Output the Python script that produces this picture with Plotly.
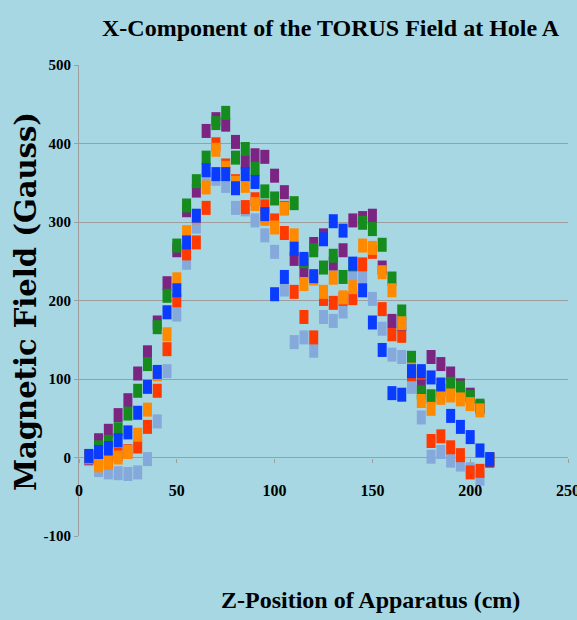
import plotly.graph_objects as go

z_cm = list(range(5, 215, 5))

purple = [0, 22, 34, 54, 73, 107, 134, 172, 222, 264, 315, 340, 416, 431, 424, 402, 376, 385, 383, 359,
          338, 253, 236, 272, 283, 247, 264, 302, 305, 308, 242, 174, 170, 125, 90, 128, 119, 107, 92, 80, 64, -4]
green = [1, 13, 20, 36, 56, 85, 119, 166, 206, 270, 321, 352, 382, 426, 439, 382, 393, 368, 339, 330,
         318, 324, 250, 264, 242, 257, 230, 246, 299, 291, 271, 228, 186, 127, 83, 78, 85, 94, 89, 77, 66, -2]
orange = [1, -10, -7, 0, 7, 29, 61, 106, 157, 227, 287, 306, 344, 392, 369, 350, 346, 323, 304, 293,
          317, 283, 221, 228, 211, 229, 204, 217, 270, 267, 236, 213, 171, 112, 72, 62, 76, 79, 74, 68, 60, -2]
blue = [2, 7, 12, 22, 32, 57, 90, 109, 185, 213, 274, 308, 366, 361, 361, 343, 361, 351, 310, 208,
        230, 266, 253, 231, 278, 301, 289, 247, 213, 172, 137, 82, 80, 110, 110, 102, 93, 53, 39, 26, 9, -2]
red = [0, 0, -4, 4, 8, 14, 39, 85, 138, 200, 260, 274, 318, 399, 372, 352, 319, 329, 320, 302,
       286, 211, 179, 153, 202, 197, 202, 203, 246, 262, 189, 157, 155, 106, 106, 21, 27, 13, 3, -19, -17, -3]
light = [-2, -16, -19, -20, -21, -19, -2, 46, 110, 182, 248, 294, 355, 355, 346, 318, 316, 302, 283, 262,
         214, 147, 153, 136, 179, 174, 186, 234, 230, 202, 164, 131, 128, 90, 51, 1, 7, -4, -9, -15, -27, -3]

series = [
    ("light", light, "#86a9dc"),
    ("red", red, "#ff3a00"),
    ("purple", purple, "#7b2481"),
    ("green", green, "#168c1e"),
    ("orange", orange, "#ff8a00"),
    ("blue", blue, "#0a3cff"),
]

x_ticks = [0, 50, 100, 150, 200, 250]
y_ticks = [-100, 0, 100, 200, 300, 400, 500]

bg = "#a6d7e3"
grid = "#9e9e9e"

fig = go.Figure()
for name, vals, col in series:
    fig.add_trace(go.Scatter(
        x=z_cm, y=vals, mode="markers", name=name,
        marker=dict(symbol="line-ns", size=10, color=col,
                    line=dict(color=col, width=9)),
        cliponaxis=False,
    ))

fig.update_layout(
    width=577, height=620,
    margin=dict(l=79, r=9, t=65, b=84),
    paper_bgcolor=bg, plot_bgcolor=bg,
    showlegend=False,
    font=dict(family="Liberation Serif", color="black"),
    xaxis=dict(range=[0, 250], tickvals=x_ticks, ticktext=[str(v) for v in x_ticks],
               showgrid=False, zeroline=False, showline=False,
               anchor="free", position=1/6, automargin=False,
               ticks="outside", ticklen=4, tickcolor=grid,
               ticklabelstandoff=14, ticklabeloverflow="allow",
               tickfont=dict(family="Liberation Serif", size=16, color="black", weight="bold")),
    yaxis=dict(range=[-100, 500], tickvals=y_ticks, ticktext=[str(v) for v in y_ticks],
               showgrid=True, gridcolor=grid, gridwidth=1.3, zeroline=False,
               showline=True, linecolor=grid, linewidth=1, automargin=False,
               ticks="outside", ticklen=4, tickcolor=grid,
               tickfont=dict(family="Liberation Serif", size=15, color="black", weight="bold")),
    annotations=[
        dict(text="<b>X-Component of the TORUS Field at Hole A</b>", xref="paper", yref="paper",
             x=0.515, y=1.079, xanchor="center", yanchor="middle", showarrow=False,
             font=dict(family="Liberation Serif", size=24, color="black")),
        dict(text="<b>Z-Position of Apparatus (cm)</b>", xref="paper", yref="paper",
             x=0.597, y=-0.136, xanchor="center", yanchor="middle", showarrow=False,
             font=dict(family="Liberation Serif", size=24, color="black")),
        dict(text="<b>Magnetic Field (Gauss)</b>", xref="paper", yref="paper",
             x=-0.108, y=0.497, xanchor="center", yanchor="middle", showarrow=False,
             textangle=-90,
             font=dict(family="DejaVu Serif", size=29, color="black")),
    ],
)

fig.write_html("out.html")
